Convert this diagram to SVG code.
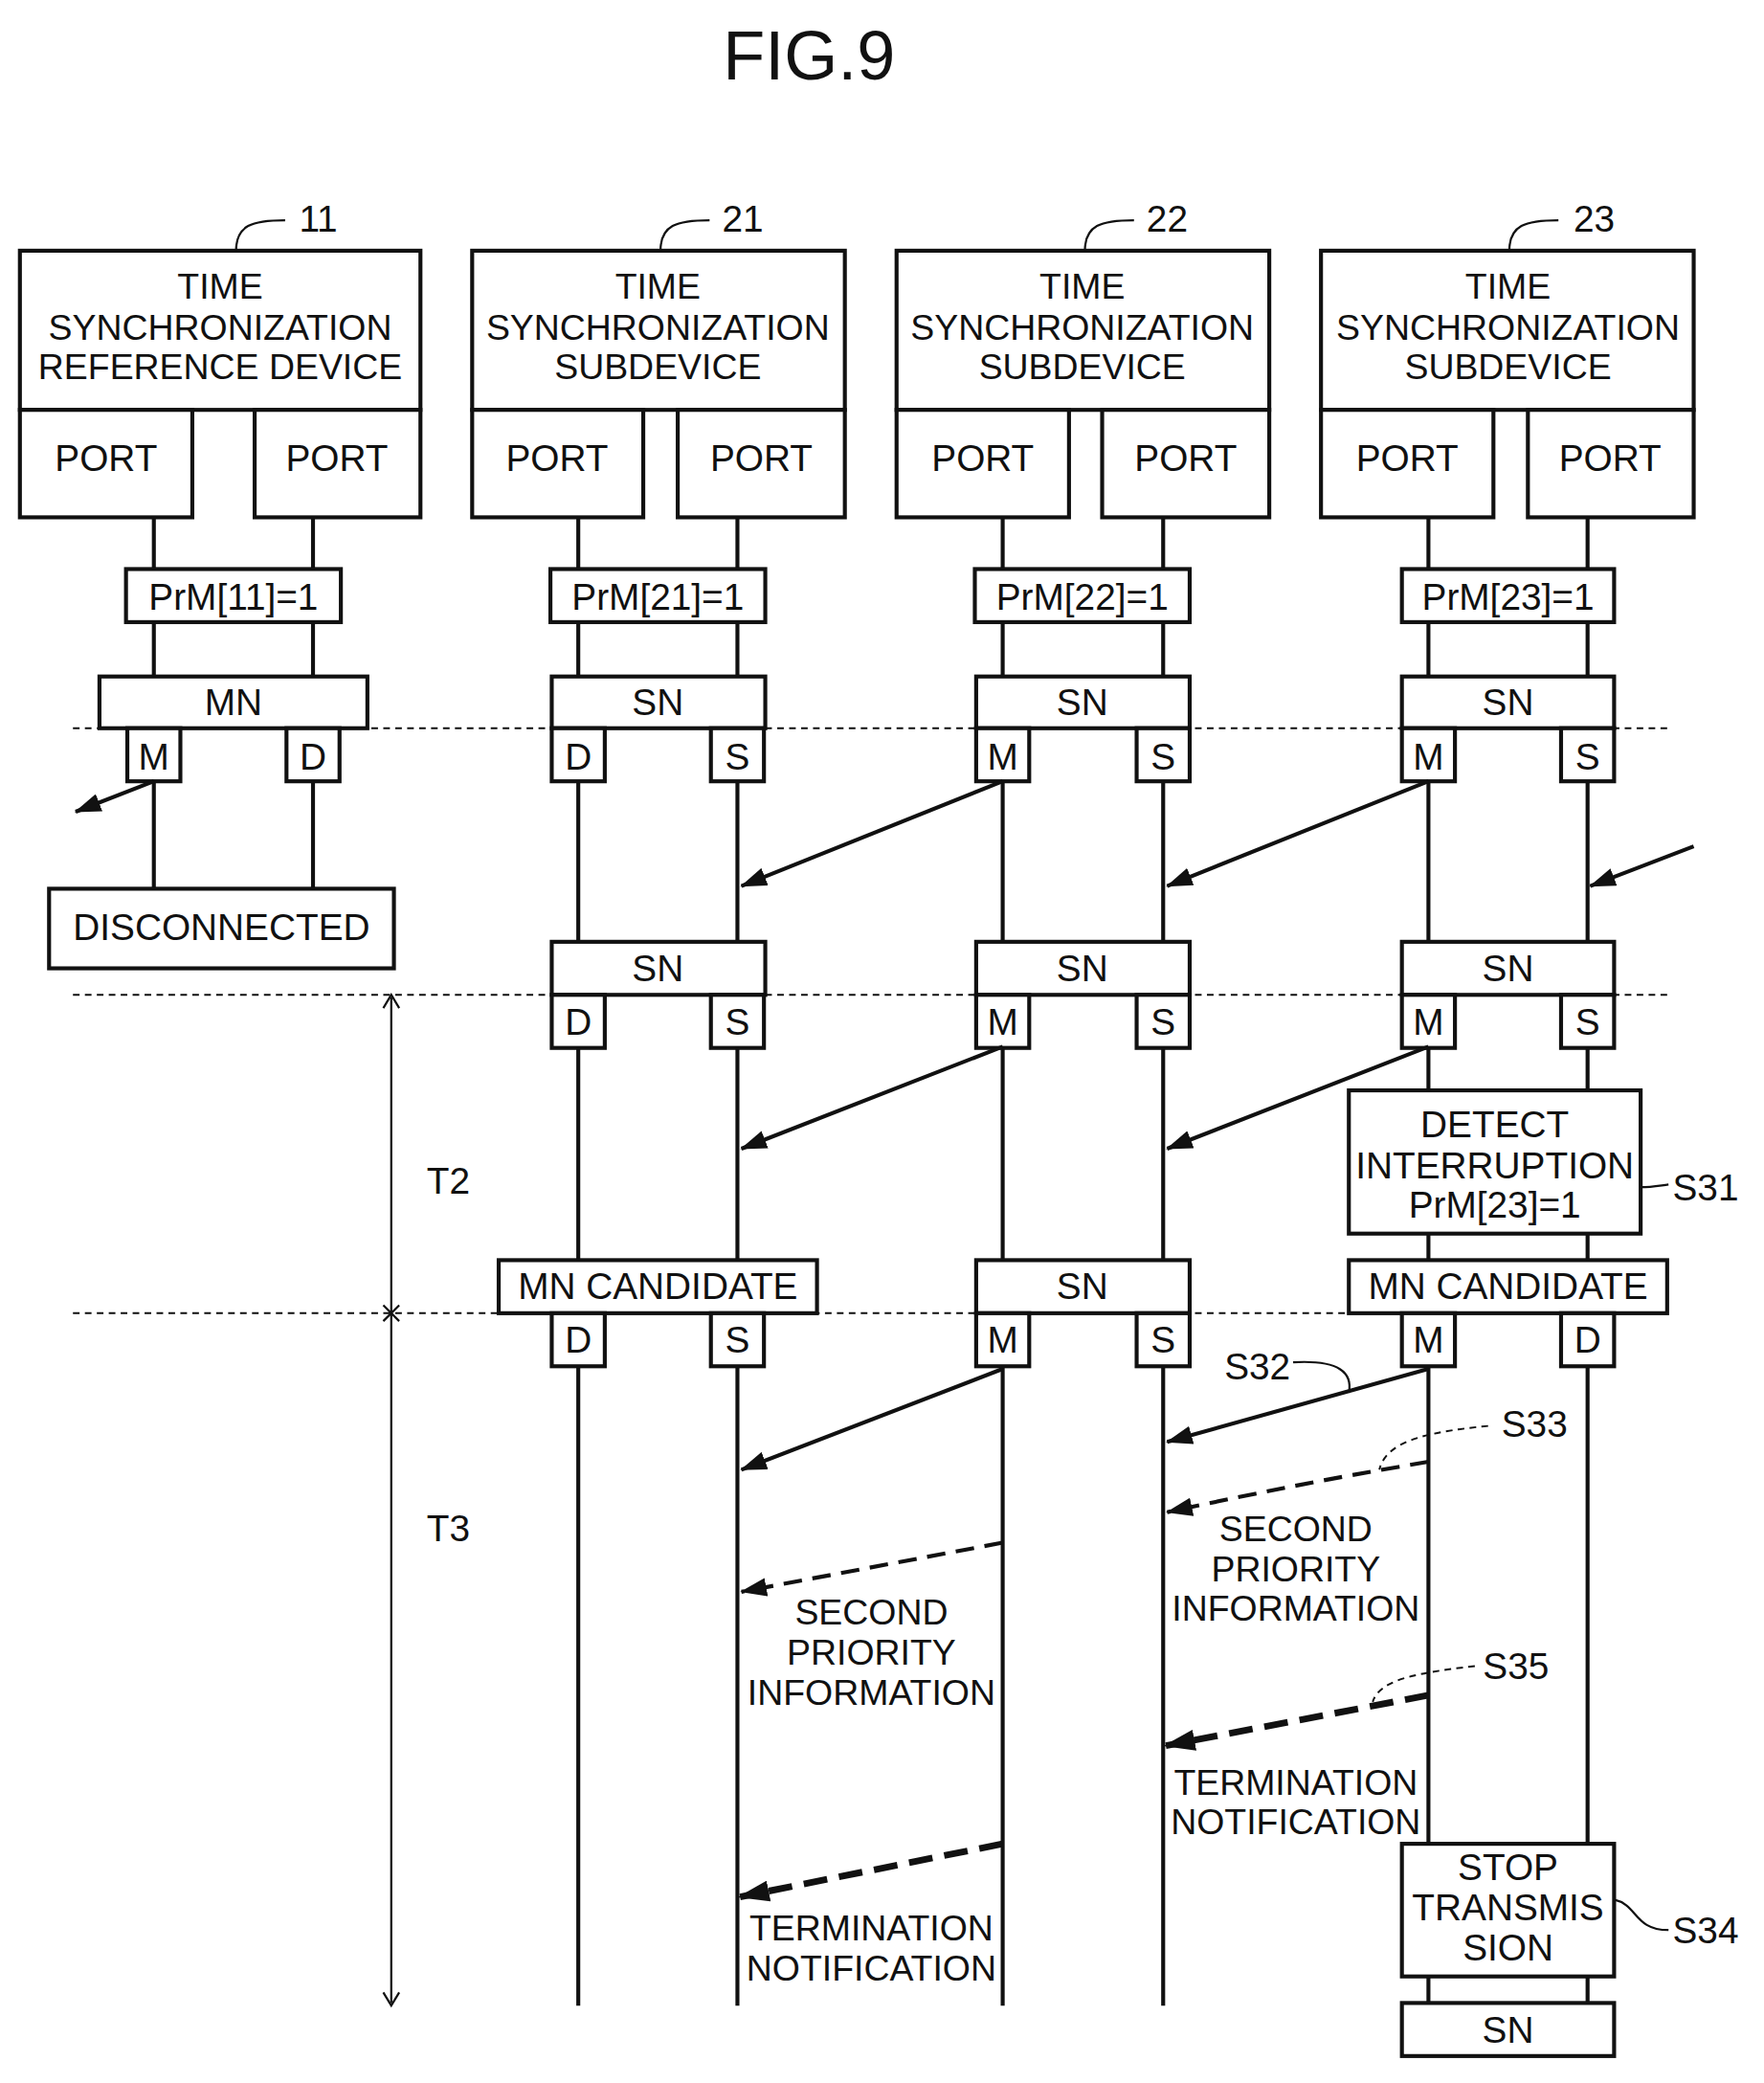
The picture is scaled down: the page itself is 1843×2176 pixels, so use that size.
<svg xmlns="http://www.w3.org/2000/svg" width="1843" height="2176" viewBox="0 0 1843 2176">
<style>
text{font-family:"Liberation Sans",Arial,sans-serif;fill:#111;text-anchor:middle}
.b{fill:#fff;stroke:#111;stroke-width:3}
.t{font-size:27px}
.s{font-size:28px}
.l{stroke:#111;stroke-width:3;fill:none}
.th{stroke:#111;stroke-width:1.6;fill:none}
.dl{stroke:#111;stroke-width:1.4;stroke-dasharray:5 4;fill:none}
.a{stroke:#111;stroke-width:3;fill:none;marker-end:url(#ah)}
.da{stroke:#111;stroke-width:3;stroke-dasharray:14 8;fill:none;marker-end:url(#ah)}
.dt{stroke:#111;stroke-width:5;stroke-dasharray:18 9;fill:none;marker-end:url(#ah2)}
</style>
<defs>
<marker id="ah" markerWidth="8" markerHeight="7" refX="7" refY="3.5" orient="auto" markerUnits="userSpaceOnUse" viewBox="0 0 8 7"><path d="M0,0 L8,3.5 L0,7 Z" fill="#111"/></marker>
<marker id="ah2" markerWidth="24" markerHeight="16" refX="22" refY="8" orient="auto" markerUnits="userSpaceOnUse"><path d="M0,0 L24,8 L0,16 Z" fill="#111"/></marker>
<marker id="ah0" markerWidth="20" markerHeight="14" refX="19" refY="7" orient="auto" markerUnits="userSpaceOnUse"><path d="M0,0 L20,7 L0,14 Z" fill="#111"/></marker>
</defs>
<g transform="scale(1.3857)">
<text x="610" y="60" style="font-size:52px">FIG.9</text>

<g id="lanes">
<line class="l" x1="116" y1="390" x2="116" y2="670"/><line class="l" x1="236" y1="390" x2="236" y2="670"/>
<line class="l" x1="436" y1="390" x2="436" y2="1512"/><line class="l" x1="556" y1="390" x2="556" y2="1512"/>
<line class="l" x1="756" y1="390" x2="756" y2="1512"/><line class="l" x1="877" y1="390" x2="877" y2="1512"/>
<line class="l" x1="1077" y1="390" x2="1077" y2="1510"/><line class="l" x1="1197" y1="390" x2="1197" y2="1510"/>
</g>
<g id="sep">
<line class="dl" x1="55" y1="549" x2="1257" y2="549"/>
<line class="dl" x1="55" y1="750" x2="1257" y2="750"/>
<line class="dl" x1="55" y1="990" x2="1257" y2="990"/>
</g>

<g id="dev11">
<rect class="b" x="15" y="189" width="302" height="120"/>
<text class="t" x="166" y="225">TIME</text><text class="t" x="166" y="256">SYNCHRONIZATION</text><text class="t" x="166" y="286">REFERENCE DEVICE</text>
<rect class="b" x="15" y="309" width="130" height="81"/><text class="s" x="80" y="355">PORT</text>
<rect class="b" x="192" y="309" width="125" height="81"/><text class="s" x="254" y="355">PORT</text>
<path class="th" d="M178,189 C178,170 190,166 215,166"/><text class="s" x="240" y="175">11</text>
<rect class="b" x="95" y="429" width="162" height="40"/><text class="s" x="176" y="460">PrM[11]=1</text>
<rect class="b" x="75" y="510" width="202" height="39"/><text class="s" x="176" y="539">MN</text>
<rect class="b" x="96" y="549" width="40" height="40"/><text class="s" x="116" y="580">M</text>
<rect class="b" x="216" y="549" width="40" height="40"/><text class="s" x="236" y="580">D</text>
<rect class="b" x="37" y="670" width="260" height="60"/><text class="s" x="167" y="709">DISCONNECTED</text>
</g>

<g id="dev21">
<rect class="b" x="356" y="189" width="281" height="120"/>
<text class="t" x="496" y="225">TIME</text><text class="t" x="496" y="256">SYNCHRONIZATION</text><text class="t" x="496" y="286">SUBDEVICE</text>
<rect class="b" x="356" y="309" width="129" height="81"/><text class="s" x="420" y="355">PORT</text>
<rect class="b" x="511" y="309" width="126" height="81"/><text class="s" x="574" y="355">PORT</text>
<path class="th" d="M498,189 C498,170 510,166 535,166"/><text class="s" x="560" y="175">21</text>
<rect class="b" x="415" y="429" width="162" height="40"/><text class="s" x="496" y="460">PrM[21]=1</text>
<rect class="b" x="416" y="510" width="161" height="39"/><text class="s" x="496" y="539">SN</text>
<rect class="b" x="416" y="549" width="40" height="40"/><text class="s" x="436" y="580">D</text>
<rect class="b" x="536" y="549" width="40" height="40"/><text class="s" x="556" y="580">S</text>
<rect class="b" x="416" y="710" width="161" height="40"/><text class="s" x="496" y="740">SN</text>
<rect class="b" x="416" y="750" width="40" height="40"/><text class="s" x="436" y="780">D</text>
<rect class="b" x="536" y="750" width="40" height="40"/><text class="s" x="556" y="780">S</text>
<rect class="b" x="376" y="950" width="240" height="40"/><text class="s" x="496" y="979">MN CANDIDATE</text>
<rect class="b" x="416" y="990" width="40" height="40"/><text class="s" x="436" y="1020">D</text>
<rect class="b" x="536" y="990" width="40" height="40"/><text class="s" x="556" y="1020">S</text>
</g>

<g id="dev22">
<rect class="b" x="676" y="189" width="281" height="120"/>
<text class="t" x="816" y="225">TIME</text><text class="t" x="816" y="256">SYNCHRONIZATION</text><text class="t" x="816" y="286">SUBDEVICE</text>
<rect class="b" x="676" y="309" width="130" height="81"/><text class="s" x="741" y="355">PORT</text>
<rect class="b" x="831" y="309" width="126" height="81"/><text class="s" x="894" y="355">PORT</text>
<path class="th" d="M818,189 C818,170 830,166 855,166"/><text class="s" x="880" y="175">22</text>
<rect class="b" x="735" y="429" width="162" height="40"/><text class="s" x="816" y="460">PrM[22]=1</text>
<rect class="b" x="736" y="510" width="161" height="39"/><text class="s" x="816" y="539">SN</text>
<rect class="b" x="736" y="549" width="40" height="40"/><text class="s" x="756" y="580">M</text>
<rect class="b" x="857" y="549" width="40" height="40"/><text class="s" x="877" y="580">S</text>
<rect class="b" x="736" y="710" width="161" height="40"/><text class="s" x="816" y="740">SN</text>
<rect class="b" x="736" y="750" width="40" height="40"/><text class="s" x="756" y="780">M</text>
<rect class="b" x="857" y="750" width="40" height="40"/><text class="s" x="877" y="780">S</text>
<rect class="b" x="736" y="950" width="161" height="40"/><text class="s" x="816" y="979">SN</text>
<rect class="b" x="736" y="990" width="40" height="40"/><text class="s" x="756" y="1020">M</text>
<rect class="b" x="857" y="990" width="40" height="40"/><text class="s" x="877" y="1020">S</text>
</g>

<g id="dev23">
<rect class="b" x="996" y="189" width="281" height="120"/>
<text class="t" x="1137" y="225">TIME</text><text class="t" x="1137" y="256">SYNCHRONIZATION</text><text class="t" x="1137" y="286">SUBDEVICE</text>
<rect class="b" x="996" y="309" width="130" height="81"/><text class="s" x="1061" y="355">PORT</text>
<rect class="b" x="1152" y="309" width="125" height="81"/><text class="s" x="1214" y="355">PORT</text>
<path class="th" d="M1138,189 C1138,170 1150,166 1175,166"/><text class="s" x="1202" y="175">23</text>
<rect class="b" x="1057" y="429" width="160" height="40"/><text class="s" x="1137" y="460">PrM[23]=1</text>
<rect class="b" x="1057" y="510" width="160" height="39"/><text class="s" x="1137" y="539">SN</text>
<rect class="b" x="1057" y="549" width="40" height="40"/><text class="s" x="1077" y="580">M</text>
<rect class="b" x="1177" y="549" width="40" height="40"/><text class="s" x="1197" y="580">S</text>
<rect class="b" x="1057" y="710" width="160" height="40"/><text class="s" x="1137" y="740">SN</text>
<rect class="b" x="1057" y="750" width="40" height="40"/><text class="s" x="1077" y="780">M</text>
<rect class="b" x="1177" y="750" width="40" height="40"/><text class="s" x="1197" y="780">S</text>
<rect class="b" x="1017" y="822" width="220" height="108"/>
<text class="s" x="1127" y="857">DETECT</text><text class="s" x="1127" y="888">INTERRUPTION</text><text class="s" x="1127" y="918">PrM[23]=1</text>
<path class="th" d="M1237,895 C1245,895 1250,894 1258,893"/><text class="s" x="1286" y="905">S31</text>
<rect class="b" x="1017" y="950" width="240" height="40"/><text class="s" x="1137" y="979">MN CANDIDATE</text>
<rect class="b" x="1057" y="990" width="40" height="40"/><text class="s" x="1077" y="1020">M</text>
<rect class="b" x="1177" y="990" width="40" height="40"/><text class="s" x="1197" y="1020">D</text>
<rect class="b" x="1057" y="1390" width="160" height="100"/>
<text class="s" x="1137" y="1417">STOP</text><text class="s" x="1137" y="1448">TRANSMIS</text><text class="s" x="1137" y="1478">SION</text>
<path class="th" d="M1217,1432 C1235,1436 1232,1455 1258,1455"/><text class="s" x="1286" y="1465">S34</text>
<rect class="b" x="1057" y="1510" width="160" height="40"/><text class="s" x="1137" y="1540">SN</text>
</g>

<g id="connectors">
<line class="a" x1="116" y1="589" x2="57" y2="612" style="marker-end:url(#ah0)"/>
<line class="a" x1="756" y1="589" x2="559" y2="668" style="marker-end:url(#ah0)"/>
<line class="a" x1="1077" y1="589" x2="880" y2="668" style="marker-end:url(#ah0)"/>
<line class="a" x1="1277" y1="638" x2="1199" y2="668" style="marker-end:url(#ah0)"/>
<line class="a" x1="756" y1="789" x2="559" y2="866" style="marker-end:url(#ah0)"/>
<line class="a" x1="1077" y1="789" x2="880" y2="866" style="marker-end:url(#ah0)"/>
<line class="a" x1="756" y1="1032" x2="559" y2="1108" style="marker-end:url(#ah0)"/>
<line class="a" x1="1077" y1="1032" x2="880" y2="1087" style="marker-end:url(#ah0)"/>
<path class="da" d="M1077,1102 C1000,1115 950,1125 880,1140" style="marker-end:url(#ah0)"/>
<line class="da" x1="756" y1="1163" x2="559" y2="1200" style="marker-end:url(#ah0)"/>
<line class="dt" x1="1077" y1="1278" x2="879" y2="1316"/>
<line class="dt" x1="756" y1="1390" x2="558" y2="1430"/>
<line class="th" x1="295" y1="752" x2="295" y2="1510"/>
<path class="th" d="M289,760 L295,750 L301,760 M289,1502 L295,1512 L301,1502 M289,984 L301,996 M301,984 L289,996"/>
<path class="th" d="M975,1027 C1010,1025 1020,1035 1017,1050"/><text class="s" x="948" y="1040">S32</text>
<path class="dl" d="M1122,1075 C1070,1080 1045,1088 1040,1108"/><text class="s" x="1157" y="1083">S33</text>
<path class="dl" d="M1112,1256 C1060,1262 1040,1268 1035,1283"/><text class="s" x="1143" y="1266">S35</text>
</g>

<g id="labels">
<text class="s" x="338" y="900">T2</text>
<text class="s" x="338" y="1162">T3</text>
<text class="t" x="977" y="1162">SECOND</text><text class="t" x="977" y="1192">PRIORITY</text><text class="t" x="977" y="1222">INFORMATION</text>
<text class="t" x="657" y="1225">SECOND</text><text class="t" x="657" y="1255">PRIORITY</text><text class="t" x="657" y="1285">INFORMATION</text>
<text class="t" x="977" y="1353">TERMINATION</text><text class="t" x="977" y="1383">NOTIFICATION</text>
<text class="t" x="657" y="1463">TERMINATION</text><text class="t" x="657" y="1493">NOTIFICATION</text>
</g>
</g>
</svg>
